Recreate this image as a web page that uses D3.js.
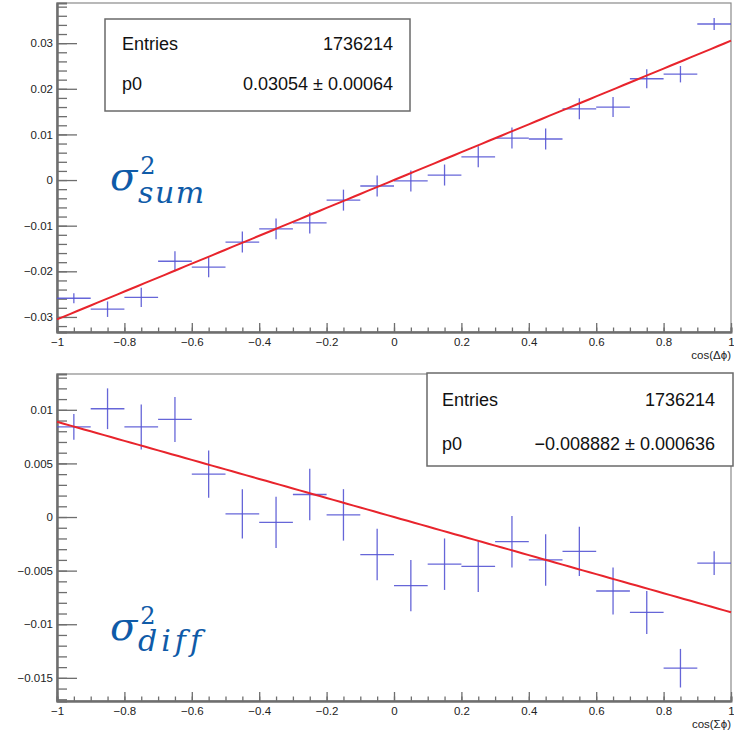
<!DOCTYPE html>
<html><head><meta charset="utf-8">
<script src="https://cdn.jsdelivr.net/npm/d3@7"></script>
<style>body{margin:0;background:#fff}svg{display:block}</style>
</head><body>
<svg id="c" width="734" height="730"></svg>
<script>
const binCenters = [-0.95,-0.85,-0.75,-0.65,-0.55,-0.45,-0.35,-0.25,-0.15,-0.05,0.05,0.15,0.25,0.35,0.45,0.55,0.65,0.75,0.85,0.95];
const binHalfWidth = 0.05;
const sumValues = [-0.0259,-0.0283,-0.0257,-0.0178,-0.0191,-0.0136,-0.0107,-0.0094,-0.0044,-0.0013,-0.0002,0.0011,0.0051,0.0092,0.0090,0.0156,0.0160,0.0222,0.0232,0.0342];
const sumErrors = [0.0011,0.0017,0.0021,0.0022,0.0022,0.0023,0.0023,0.0023,0.0023,0.0023,0.0023,0.0023,0.0023,0.0023,0.0023,0.0023,0.0022,0.0021,0.0018,0.0013];
const diffValues = [0.0084,0.0101,0.0084,0.0091,0.0040,0.0003,-0.0005,0.0021,0.0002,-0.0035,-0.0064,-0.0044,-0.0046,-0.0023,-0.0040,-0.0032,-0.0069,-0.0089,-0.0141,-0.0043];
const diffErrors = [0.0012,0.0019,0.0021,0.0021,0.0022,0.0023,0.0024,0.0024,0.0024,0.0024,0.0024,0.0024,0.0024,0.0024,0.0024,0.0023,0.0022,0.0020,0.0018,0.0011];
const sumP0 = 0.03054, diffP0 = -0.008882;
const entries = "1736214";
const sumP0Text = "0.03054 \u00b1 0.00064";
const diffP0Text = "\u22120.008882 \u00b1 0.000636";
const xTicks = [-1,-0.8,-0.6,-0.4,-0.2,0,0.2,0.4,0.6,0.8,1];
const sumYTicks = [-0.03,-0.02,-0.01,0,0.01,0.02,0.03];
const diffYTicks = [-0.015,-0.01,-0.005,0,0.005,0.01];
const sumXTitle = "cos(\u0394\u03d5)";
const diffXTitle = "cos(\u03a3\u03d5)";

const svg = d3.select("#c");
const fmt = d => d === 0 ? "0" : d3.format("~g")(d);
const axisColor = "#6e6e6e";

function panel(cfg){
  const x = d3.scaleLinear([-1,1],[cfg.left,cfg.right]);
  const y = d3.scaleLinear(cfg.yDomain,[cfg.bottom,cfg.top]);
  const g = svg.append("g");
  g.append("rect").attr("x",cfg.left).attr("y",cfg.top)
    .attr("width",cfg.right-cfg.left).attr("height",cfg.bottom-cfg.top)
    .attr("fill","none").attr("stroke","#8a8a8a").attr("stroke-width",1.2);
  const yMinor = d3.range(Math.ceil(cfg.yDomain[0]/cfg.yMinor), Math.floor(cfg.yDomain[1]/cfg.yMinor)+1).map(i=>i*cfg.yMinor);
  const xMinor = d3.range(-20,21).map(i=>i*0.05);
  const ya = g.append("g").attr("transform",`translate(${cfg.left},0)`)
    .call(d3.axisRight(y).tickValues(yMinor).tickSize(10).tickFormat(""));
  const xa = g.append("g").attr("transform",`translate(0,${cfg.bottom})`)
    .call(d3.axisTop(x).tickValues(xMinor).tickSize(4.5).tickFormat(""));
  const yb = g.append("g").attr("transform",`translate(${cfg.left},0)`)
    .call(d3.axisLeft(y).tickValues(cfg.yTicks).tickSizeInner(-20).tickSizeOuter(0).tickPadding(4).tickFormat(fmt));
  const xb = g.append("g").attr("transform",`translate(0,${cfg.bottom})`)
    .call(d3.axisBottom(x).tickValues(xTicks).tickSizeInner(-9).tickSizeOuter(0).tickPadding(6).tickFormat(fmt));
  [ya,xa,yb,xb].forEach(a=>{
    a.selectAll("path").attr("stroke",axisColor).attr("stroke-width",2);
    a.selectAll("line").attr("stroke",axisColor).attr("stroke-width",1.3);
    a.selectAll("text").attr("fill","#222").style("font-family","Liberation Sans, Arial, sans-serif").style("font-size","11.5px");
  });
  g.append("text").attr("x",cfg.right).attr("y",cfg.bottom+27).attr("text-anchor","end")
    .attr("fill","#222").style("font-family","Liberation Sans, Arial, sans-serif").style("font-size","11.5px").text(cfg.xTitle);
  const pts = binCenters.map((c,i)=>({c, v:cfg.values[i], e:cfg.errors[i]}));
  const cr = g.append("g").attr("stroke","#5555d4").attr("stroke-width",1.3).attr("stroke-opacity",0.9);
  cr.selectAll("line.h").data(pts).join("line").attr("class","h")
    .attr("x1",d=>x(d.c-binHalfWidth)).attr("x2",d=>x(d.c+binHalfWidth))
    .attr("y1",d=>y(d.v)).attr("y2",d=>y(d.v));
  cr.selectAll("line.v").data(pts).join("line").attr("class","v")
    .attr("x1",d=>x(d.c)).attr("x2",d=>x(d.c))
    .attr("y1",d=>y(d.v-d.e)).attr("y2",d=>y(d.v+d.e));
  const line = d3.line().x(d=>x(d)).y(d=>y(cfg.p0*d));
  g.append("path").attr("d",line(d3.range(0,101).map(i=>-1+i*0.02)))
    .attr("fill","none").attr("stroke","#e8242c").attr("stroke-width",2);
  const b = cfg.box;
  g.append("rect").attr("x",b.x0).attr("y",b.y0).attr("width",b.x1-b.x0).attr("height",b.y1-b.y0)
    .attr("fill","#fff").attr("stroke","#6a6a6a").attr("stroke-width",1.5);
  const st = g.append("g").attr("fill","#111").style("font-family","Liberation Sans, Arial, sans-serif").style("font-size","18px");
  st.append("text").attr("x",b.tx).attr("y",b.b1).text("Entries");
  st.append("text").attr("x",b.rx).attr("y",b.b1).attr("text-anchor","end").text(entries);
  st.append("text").attr("x",b.tx).attr("y",b.b2).text("p0");
  st.append("text").attr("x",b.rx).attr("y",b.b2).attr("text-anchor","end").text(cfg.p0Text);
  // sigma label as a single text element
  const L = cfg.label;
  const t = g.append("text").attr("x",L.x).attr("y",L.y).attr("fill","#0f5ba8")
    .style("font-family","DejaVu Serif, Liberation Serif, serif").style("font-style","italic");
  t.append("tspan").style("font-size","40px").text("\u03c3");
  t.append("tspan").attr("dx",3).attr("dy",-16).style("font-size","24px").style("font-style","normal").text("2");
  t.append("tspan").attr("x",L.x+28).attr("dy",16+L.subDy).style("font-size","30px")
    .style("letter-spacing",L.ls+"px").text(L.sub);
}

panel({left:57,right:731,top:3,bottom:332,yDomain:[-0.0333,0.0388],yMinor:0.002,yTicks:sumYTicks,
  values:sumValues,errors:sumErrors,p0:sumP0,p0Text:sumP0Text,xTitle:sumXTitle,
  box:{x0:105,y0:19,x1:410,y1:111,tx:122,rx:393,b1:50,b2:90},
  label:{x:110,y:190,sub:"sum",subDy:13,ls:1.5}});
panel({left:57,right:731,top:374,bottom:701,yDomain:[-0.01716,0.01334],yMinor:0.001,yTicks:diffYTicks,
  values:diffValues,errors:diffErrors,p0:diffP0,p0Text:diffP0Text,xTitle:diffXTitle,
  box:{x0:427,y0:373,x1:733,y1:466,tx:442,rx:715,b1:406,b2:450},
  label:{x:110,y:640,sub:"diff",subDy:11,ls:4}});
</script>
</body></html>
